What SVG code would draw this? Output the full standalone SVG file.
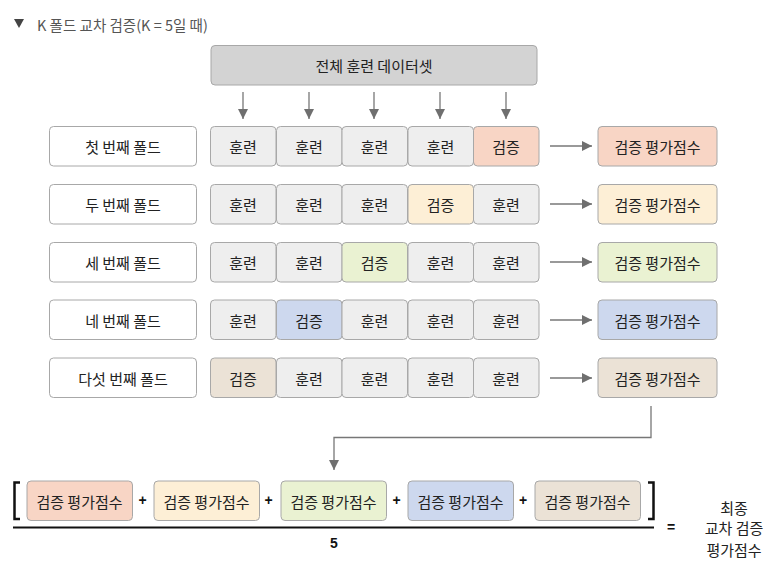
<svg xmlns="http://www.w3.org/2000/svg" width="775" height="563" viewBox="0 0 775 563">
<defs>
<marker id="ah" viewBox="0 0 10 10" refX="10" refY="5" markerWidth="10" markerHeight="10" markerUnits="userSpaceOnUse" orient="auto">
<path d="M0,0 L10,5 L0,10 z" fill="#6f6f6f"/>
</marker>
<style>
text{font-family:"Noto Sans CJK KR","Noto Sans",sans-serif;fill:#222;}
.t{font-size:15px;text-anchor:middle;dominant-baseline:central;}
.box{stroke:#a8a8a8;stroke-width:1;}
.lbl{fill:#fff;}
.tr{fill:#eeeeee;}
.c1{fill:#f8d5c5;}
.c2{fill:#fdefd6;}
.c3{fill:#eaf2d2;}
.c4{fill:#cdd8ee;}
.c5{fill:#ebe2d6;}
.con{stroke:#777;stroke-width:1.3;fill:none;}
.op{font-size:14px;font-weight:bold;text-anchor:middle;dominant-baseline:central;font-family:"Liberation Sans",sans-serif;fill:#111;}
</style>
</defs>
<rect width="775" height="563" fill="#fff"/>
<g id="title">
<path d="M14,19 L24,19 L19,28 z" fill="#444"/>
<text x="37" y="24" style="font-size:14.5px;fill:#555;dominant-baseline:central">K 폴드 교차 검증(K = 5일 때)</text>
</g>
<g id="dataset">
<rect x="211" y="45.5" width="326" height="39.5" rx="4" fill="#d3d3d3" class="box"/>
<text class="t" x="374" y="65">전체 훈련 데이터셋</text>
</g>
<g id="connectors">
<line class="con" x1="243" y1="92" x2="243" y2="119" marker-end="url(#ah)"/>
<line class="con" x1="309" y1="92" x2="309" y2="119" marker-end="url(#ah)"/>
<line class="con" x1="374" y1="92" x2="374" y2="119" marker-end="url(#ah)"/>
<line class="con" x1="440" y1="92" x2="440" y2="119" marker-end="url(#ah)"/>
<line class="con" x1="506" y1="92" x2="506" y2="119" marker-end="url(#ah)"/>
<line class="con" x1="550" y1="146" x2="592" y2="146" marker-end="url(#ah)"/>
<line class="con" x1="550" y1="204" x2="592" y2="204" marker-end="url(#ah)"/>
<line class="con" x1="550" y1="262" x2="592" y2="262" marker-end="url(#ah)"/>
<line class="con" x1="550" y1="320" x2="592" y2="320" marker-end="url(#ah)"/>
<line class="con" x1="550" y1="378" x2="592" y2="378" marker-end="url(#ah)"/>
<polyline class="con" points="651,406 651,437.5 334,437.5 334,470" marker-end="url(#ah)"/>
</g>
<g id="fold1">
<rect class="box lbl" x="49.5" y="126.5" width="147" height="39.5" rx="4"/><text class="t" x="123" y="146">첫 번째 폴드</text>
<rect class="box tr" x="210.5" y="126.5" width="65.5" height="39.5" rx="4"/><text class="t" x="243" y="146">훈련</text>
<rect class="box tr" x="276.5" y="126.5" width="65.5" height="39.5" rx="4"/><text class="t" x="309" y="146">훈련</text>
<rect class="box tr" x="342" y="126.5" width="65.5" height="39.5" rx="4"/><text class="t" x="374.5" y="146">훈련</text>
<rect class="box tr" x="408" y="126.5" width="65.5" height="39.5" rx="4"/><text class="t" x="440.5" y="146">훈련</text>
<rect class="box c1" x="473.5" y="126.5" width="65.5" height="39.5" rx="4"/><text class="t" x="506" y="146">검증</text>
<rect class="box c1" x="598" y="126.5" width="119" height="39.5" rx="4"/><text class="t" x="657.5" y="146">검증 평가점수</text>
</g>
<g id="fold2">
<rect class="box lbl" x="49.5" y="184.5" width="147" height="39.5" rx="4"/><text class="t" x="123" y="204">두 번째 폴드</text>
<rect class="box tr" x="210.5" y="184.5" width="65.5" height="39.5" rx="4"/><text class="t" x="243" y="204">훈련</text>
<rect class="box tr" x="276.5" y="184.5" width="65.5" height="39.5" rx="4"/><text class="t" x="309" y="204">훈련</text>
<rect class="box tr" x="342" y="184.5" width="65.5" height="39.5" rx="4"/><text class="t" x="374.5" y="204">훈련</text>
<rect class="box c2" x="408" y="184.5" width="65.5" height="39.5" rx="4"/><text class="t" x="440.5" y="204">검증</text>
<rect class="box tr" x="473.5" y="184.5" width="65.5" height="39.5" rx="4"/><text class="t" x="506" y="204">훈련</text>
<rect class="box c2" x="598" y="184.5" width="119" height="39.5" rx="4"/><text class="t" x="657.5" y="204">검증 평가점수</text>
</g>
<g id="fold3">
<rect class="box lbl" x="49.5" y="242.5" width="147" height="39.5" rx="4"/><text class="t" x="123" y="262">세 번째 폴드</text>
<rect class="box tr" x="210.5" y="242.5" width="65.5" height="39.5" rx="4"/><text class="t" x="243" y="262">훈련</text>
<rect class="box tr" x="276.5" y="242.5" width="65.5" height="39.5" rx="4"/><text class="t" x="309" y="262">훈련</text>
<rect class="box c3" x="342" y="242.5" width="65.5" height="39.5" rx="4"/><text class="t" x="374.5" y="262">검증</text>
<rect class="box tr" x="408" y="242.5" width="65.5" height="39.5" rx="4"/><text class="t" x="440.5" y="262">훈련</text>
<rect class="box tr" x="473.5" y="242.5" width="65.5" height="39.5" rx="4"/><text class="t" x="506" y="262">훈련</text>
<rect class="box c3" x="598" y="242.5" width="119" height="39.5" rx="4"/><text class="t" x="657.5" y="262">검증 평가점수</text>
</g>
<g id="fold4">
<rect class="box lbl" x="49.5" y="300" width="147" height="39.5" rx="4"/><text class="t" x="123" y="320">네 번째 폴드</text>
<rect class="box tr" x="210.5" y="300" width="65.5" height="39.5" rx="4"/><text class="t" x="243" y="320">훈련</text>
<rect class="box c4" x="276.5" y="300" width="65.5" height="39.5" rx="4"/><text class="t" x="309" y="320">검증</text>
<rect class="box tr" x="342" y="300" width="65.5" height="39.5" rx="4"/><text class="t" x="374.5" y="320">훈련</text>
<rect class="box tr" x="408" y="300" width="65.5" height="39.5" rx="4"/><text class="t" x="440.5" y="320">훈련</text>
<rect class="box tr" x="473.5" y="300" width="65.5" height="39.5" rx="4"/><text class="t" x="506" y="320">훈련</text>
<rect class="box c4" x="598" y="300" width="119" height="39.5" rx="4"/><text class="t" x="657.5" y="320">검증 평가점수</text>
</g>
<g id="fold5">
<rect class="box lbl" x="49.5" y="358" width="147" height="39.5" rx="4"/><text class="t" x="123" y="378">다섯 번째 폴드</text>
<rect class="box c5" x="210.5" y="358" width="65.5" height="39.5" rx="4"/><text class="t" x="243" y="378">검증</text>
<rect class="box tr" x="276.5" y="358" width="65.5" height="39.5" rx="4"/><text class="t" x="309" y="378">훈련</text>
<rect class="box tr" x="342" y="358" width="65.5" height="39.5" rx="4"/><text class="t" x="374.5" y="378">훈련</text>
<rect class="box tr" x="408" y="358" width="65.5" height="39.5" rx="4"/><text class="t" x="440.5" y="378">훈련</text>
<rect class="box tr" x="473.5" y="358" width="65.5" height="39.5" rx="4"/><text class="t" x="506" y="378">훈련</text>
<rect class="box c5" x="598" y="358" width="119" height="39.5" rx="4"/><text class="t" x="657.5" y="378">검증 평가점수</text>
</g>
<g id="formula">
<path d="M20,482.5 L14.5,482.5 L14.5,519 L20,519" fill="none" stroke="#111" stroke-width="2.5"/>
<path d="M648,482.5 L653.5,482.5 L653.5,519 L648,519" fill="none" stroke="#111" stroke-width="2.5"/>
<rect class="box c1" x="27" y="481" width="105.5" height="39.5" rx="4"/><text class="t" x="79.5" y="501">검증 평가점수</text>
<text class="op" x="142.5" y="500">+</text>
<rect class="box c2" x="154" y="481" width="105.5" height="39.5" rx="4"/><text class="t" x="206.5" y="501">검증 평가점수</text>
<text class="op" x="268.5" y="500">+</text>
<rect class="box c3" x="281" y="481" width="105.5" height="39.5" rx="4"/><text class="t" x="333.5" y="501">검증 평가점수</text>
<text class="op" x="396.5" y="500">+</text>
<rect class="box c4" x="408" y="481" width="105.5" height="39.5" rx="4"/><text class="t" x="460.5" y="501">검증 평가점수</text>
<text class="op" x="523" y="500">+</text>
<rect class="box c5" x="535" y="481" width="105.5" height="39.5" rx="4"/><text class="t" x="587.5" y="501">검증 평가점수</text>
<line x1="13" y1="527.5" x2="654" y2="527.5" stroke="#111" stroke-width="2"/>
<text class="op" x="334" y="543">5</text>
<text class="op" x="671" y="527">=</text>
<text class="t" x="734" y="507">최종</text>
<text class="t" x="734" y="527">교차 검증</text>
<text class="t" x="734" y="549">평가점수</text>
</g>
</svg>
